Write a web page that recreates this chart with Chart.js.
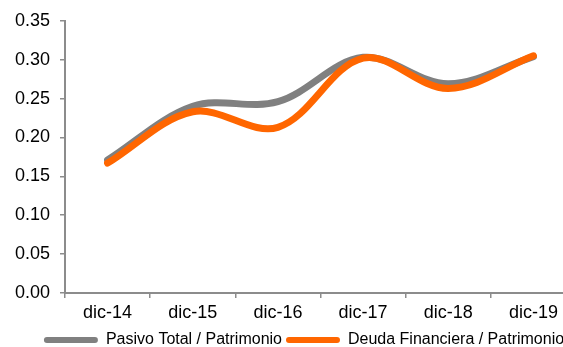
<!DOCTYPE html>
<html>
<head>
<meta charset="utf-8">
<script src="https://cdn.jsdelivr.net/npm/chart.js@4/dist/chart.umd.min.js"></script>
<style>
  html, body { margin: 0; padding: 0; background: #fff; overflow: hidden; }
  #wrap { width: 608px; height: 347px; }
</style>
</head>
<body>
<div id="wrap"><canvas id="c" width="608" height="347"></canvas></div>
<script>
// Periods and ratios
const categories = ['dic-14', 'dic-15', 'dic-16', 'dic-17', 'dic-18', 'dic-19'];
const pasivoTotalPatrimonio = [0.171, 0.240, 0.246, 0.303, 0.269, 0.304];
const deudaFinancieraPatrimonio = [0.167, 0.233, 0.213, 0.302, 0.263, 0.305];
const seriesNames = ['Pasivo Total / Patrimonio', 'Deuda Financiera / Patrimonio'];
const yTicks = [0, 0.05, 0.10, 0.15, 0.20, 0.25, 0.30, 0.35];

const GRAY = '#808080';
const ORANGE = '#ff6600';
const AXIS = '#8c8c8c';

new Chart(document.getElementById('c'), {
  type: 'line',
  data: {
    labels: categories,
    datasets: [
      {
        label: seriesNames[0],
        data: pasivoTotalPatrimonio,
        borderColor: GRAY,
        backgroundColor: GRAY,
        borderWidth: 7,
        borderCapStyle: 'round',
        borderJoinStyle: 'round',
        pointRadius: 0,
        tension: 0.35,
        order: 1,
        yAxisID: 'y'
      },
      {
        label: seriesNames[1],
        data: deudaFinancieraPatrimonio,
        borderColor: ORANGE,
        backgroundColor: ORANGE,
        borderWidth: 7,
        borderCapStyle: 'round',
        borderJoinStyle: 'round',
        pointRadius: 0,
        tension: 0.35,
        order: 0,
        yAxisID: 'y'
      }
    ]
  },
  options: {
    responsive: false,
    animation: false,
    devicePixelRatio: 1,
    layout: { padding: { top: 20, left: 0, right: 0, bottom: -11 } },
    plugins: {
      tooltip: { enabled: false },
      legend: {
        position: 'bottom',
        labels: {
          font: { family: 'Liberation Sans, Arial, sans-serif', size: 16 },
          color: '#000',
          boxWidth: 54,
          boxHeight: 6,
          padding: 4,
          useBorderRadius: true,
          borderRadius: 3,
          sort: (a, b) => a.datasetIndex - b.datasetIndex,
          generateLabels: (chart) =>
            Chart.defaults.plugins.legend.labels.generateLabels(chart).map(l => {
              l.lineWidth = 0;
              l.strokeStyle = l.fillStyle;
              return l;
            })
        }
      }
    },
    scales: {
      x: {
        type: 'category',
        offset: true,
        grid: {
          offset: true,
          drawOnChartArea: false,
          drawTicks: true,
          tickLength: 5,
          color: AXIS,
          lineWidth: 1.5
        },
        border: { display: true, color: AXIS, width: 2 },
        ticks: {
          font: { family: 'Liberation Sans, Arial, sans-serif', size: 18 },
          color: '#000',
          padding: 4,
          maxRotation: 0,
          autoSkip: false
        },
        afterFit: (scale) => { scale.height = 35; }
      },
      y: {
        type: 'linear',
        position: 'left',
        min: yTicks[0],
        max: yTicks[yTicks.length - 1],
        afterBuildTicks: (scale) => { scale.ticks = yTicks.map(v => ({ value: v })); },
        grid: {
          drawOnChartArea: false,
          drawTicks: true,
          tickLength: 5,
          color: AXIS,
          lineWidth: 1.5
        },
        border: { display: true, color: AXIS, width: 2 },
        ticks: {
          font: { family: 'Liberation Sans, Arial, sans-serif', size: 18 },
          color: '#000',
          padding: 10,
          callback: (v) => Number(v).toFixed(2)
        },
        afterFit: (scale) => { scale.width = 65; }
      },
      yRight: {
        type: 'linear',
        position: 'right',
        display: true,
        grid: { display: false, drawTicks: false },
        border: { display: false },
        ticks: { display: false },
        afterFit: (scale) => { scale.width = 32; }
      }
    }
  }
});
</script>
</body>
</html>
